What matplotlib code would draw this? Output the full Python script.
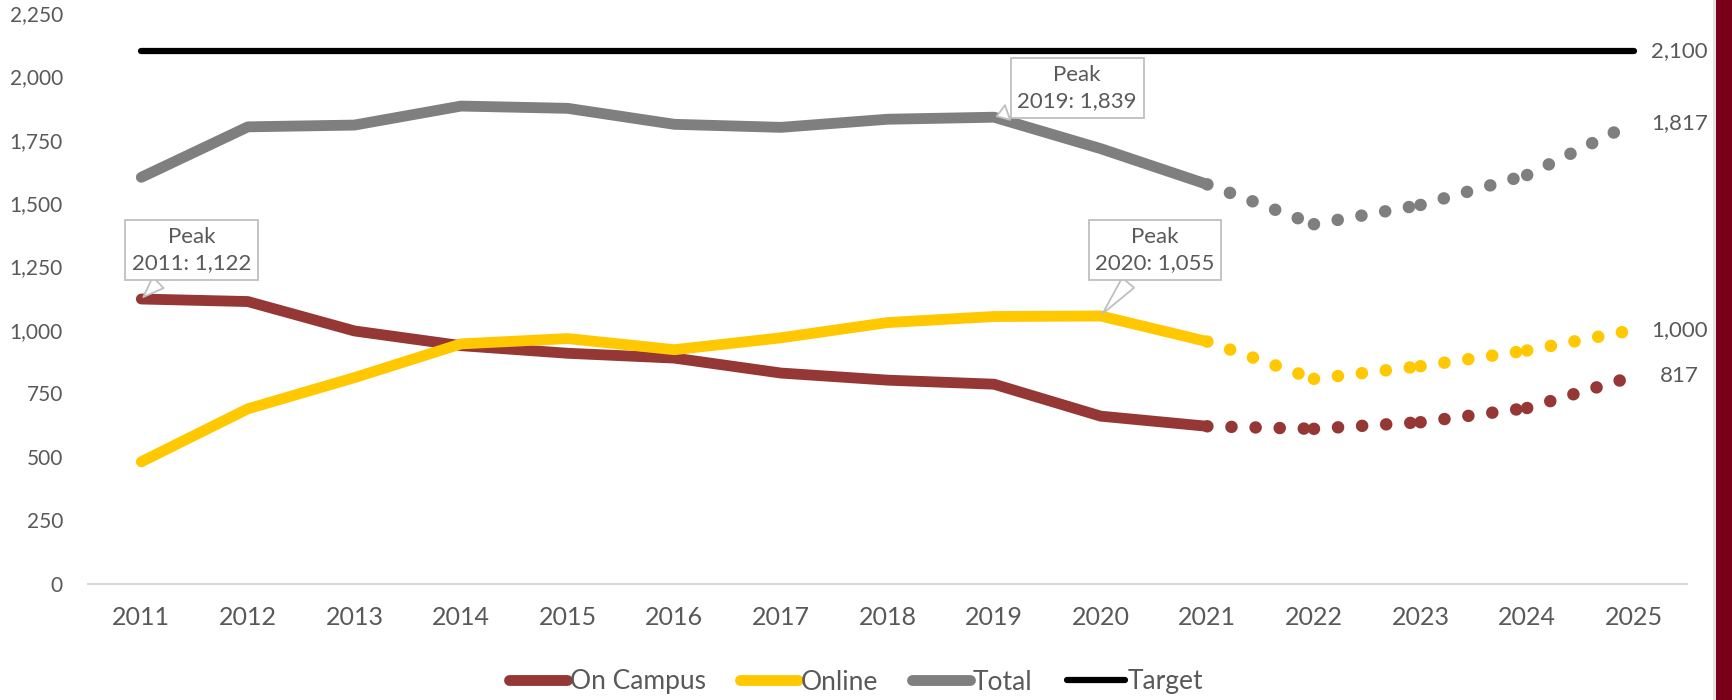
import matplotlib
matplotlib.use('Agg')
import matplotlib.pyplot as plt
from matplotlib.lines import Line2D
from matplotlib.patches import Rectangle

plt.rcParams['font.family'] = ['Lato', 'DejaVu Sans']

# --- data ---
years = [2011, 2012, 2013, 2014, 2015, 2016, 2017, 2018, 2019, 2020,
         2021, 2022, 2023, 2024, 2025]
on_campus = [1122, 1112, 996, 938, 908, 889, 830, 802, 786, 660,
             620, 610, 636, 692, 817]
online = [480, 689, 812, 945, 966, 922, 969, 1029, 1053, 1055,
          954, 807, 857, 919, 1000]
total = [1602, 1801, 1808, 1883, 1874, 1811, 1799, 1831, 1839, 1715,
         1574, 1417, 1493, 1611, 1817]
target = [2100] * 15
last_actual = 2021  # projection (dotted) after this year

series_names = ['On Campus', 'Online', 'Total', 'Target']
colors = ['#953735', '#FFC800', '#7F7F7F', '#000000']

# callouts: (series, year, label)
peaks = [(on_campus, 2011, 'Peak\n2011: 1,122'),
         (total, 2019, 'Peak\n2019: 1,839'),
         (online, 2020, 'Peak\n2020: 1,055')]
peak_text_pos = [(2011.47, 1315), (2019.78, 1954), (2020.51, 1315)]

text_gray = '#595959'

fig = plt.figure(figsize=(17.33, 7), dpi=100)
ax = fig.add_axes([88 / 1733, 1 - 583.5 / 700, (1687 - 88) / 1733, (583.5 - 13) / 700])

split = years.index(last_actual)
lw = 7.8
dot_lw = 9
for vals, col in zip([on_campus, online, total], colors[:3]):
    ax.plot(years[:split + 1], vals[:split + 1], color=col, lw=lw,
            solid_capstyle='round', solid_joinstyle='round', zorder=3)
    # dotted projection, one segment per year (Excel restarts the pattern)
    for i in range(split, len(years) - 1):
        ax.plot(years[i:i + 2], vals[i:i + 2], color=col, lw=dot_lw,
                linestyle=(0, (0.01, 1.92)), dash_capstyle='round', zorder=3)

ax.plot(years, target, color=colors[3], lw=4.5, solid_capstyle='round', zorder=3)

# end labels
for vals in [target, total, online, on_campus]:
    ax.annotate(f'{vals[-1]:,}', xy=(years[-1], vals[-1]), xytext=(33, 0),
                textcoords='offset points', ha='center', va='center',
                fontsize=16, color=text_gray)

# peak callouts
for (vals, yr, label), (tx, ty) in zip(peaks, peak_text_pos):
    ax.annotate(label, xy=(yr, vals[years.index(yr)]), xytext=(tx, ty),
                textcoords='data', ha='center', va='center', fontsize=16,
                color=text_gray, linespacing=1.4, zorder=6,
                bbox=dict(boxstyle='square,pad=0.3', fc='white', ec='#BFBFBF', lw=1.3),
                arrowprops=dict(arrowstyle='wedge,tail_width=0.7,shrink_factor=0.5',
                                fc='white', ec='#BFBFBF', lw=1.3))

ax.set_xlim(2010.5, 2025.5)
ax.set_ylim(0, 2250)
ax.set_xticks(years)
ax.set_xticklabels([str(y) for y in years])
ax.set_yticks(range(0, 2251, 250))
ax.set_yticklabels([f'{v:,}' for v in range(0, 2251, 250)])
ax.tick_params(axis='x', length=0, pad=16, labelsize=18, labelcolor=text_gray)
ax.tick_params(axis='y', length=0, pad=18, labelsize=15, labelcolor=text_gray)

for s in ['top', 'right', 'left']:
    ax.spines[s].set_visible(False)
ax.spines['bottom'].set_color('#D9D9D9')
ax.spines['bottom'].set_linewidth(1.5)

handles = [Line2D([0], [0], color=c, lw=w, solid_capstyle='round')
           for c, w in zip(colors, [lw, lw, lw, 4.5])]
fig.legend(handles, series_names, loc='center', bbox_to_anchor=(0.494, 1 - 682 / 700),
           ncol=4, frameon=False, fontsize=19, handlelength=2.2, handletextpad=0.1,
           columnspacing=1.3, labelcolor=text_gray)

# maroon strip at right edge
fig.patches.append(Rectangle((1716 / 1733, 0), 17 / 1733, 1, transform=fig.transFigure,
                             fc='#7A0019', ec='none', zorder=0))
fig.patches.append(Rectangle((1713 / 1733, 0), 3 / 1733, 1, transform=fig.transFigure,
                             fc='#E3E3E3', ec='none', zorder=0))

fig.savefig('out.png', dpi=100)
